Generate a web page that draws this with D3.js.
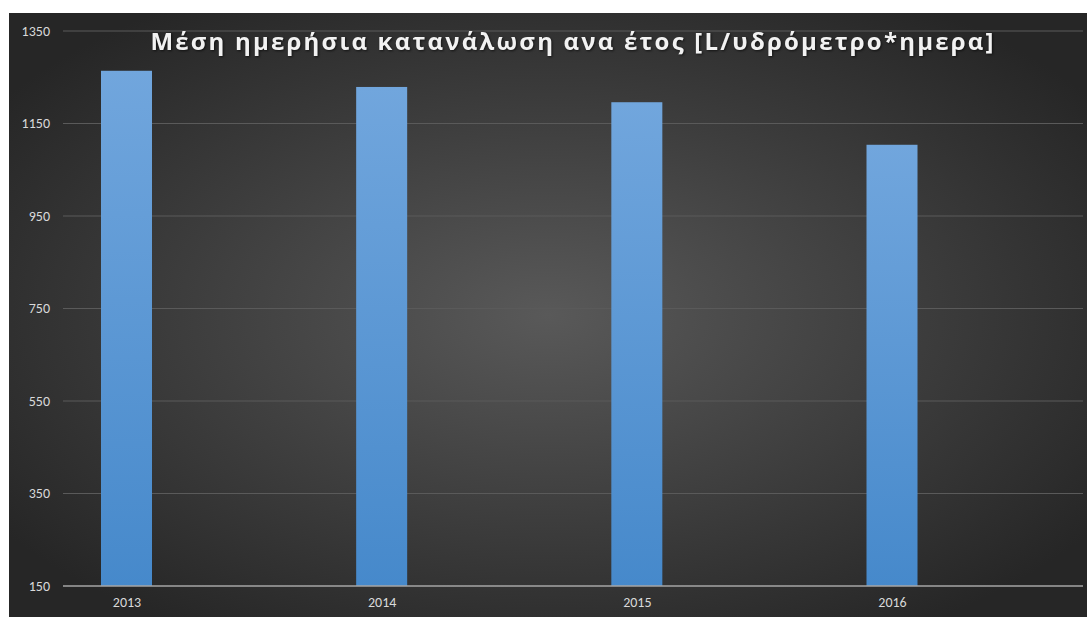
<!DOCTYPE html>
<html>
<head>
<meta charset="utf-8">
<script src="https://cdn.jsdelivr.net/npm/d3@7"></script>
<style>
html,body{margin:0;padding:0;background:#fff;}
svg{display:block;}
</style>
</head>
<body>
<svg id="chart" width="1087" height="617"></svg>
<script>
const categories = ["2013", "2014", "2015", "2016"];
const values = [1264, 1229, 1196, 1104];
const yTicks = [150, 350, 550, 750, 950, 1150, 1350];
const title = "Μέση ημερήσια κατανάλωση ανα έτος [L/υδρόμετρο*ημερα]";

const svg = d3.select("#chart");
const defs = svg.append("defs");
const bg = defs.append("radialGradient").attr("id", "bg")
  .attr("cx", "50%").attr("cy", "50%").attr("r", "62%");
bg.append("stop").attr("offset", "0%").attr("stop-color", "#595959");
bg.append("stop").attr("offset", "100%").attr("stop-color", "#262626");
const bar = defs.append("linearGradient").attr("id", "bar")
  .attr("x1", 0).attr("y1", 0).attr("x2", 0).attr("y2", 1);
bar.append("stop").attr("offset", "0%").attr("stop-color", "#71a6dd");
bar.append("stop").attr("offset", "100%").attr("stop-color", "#4689cb");

svg.append("rect").attr("x", 9).attr("y", 13).attr("width", 1078).attr("height", 604)
  .attr("fill", "url(#bg)");

const plotL = 63, plotR = 1083;
const y = d3.scaleLinear().domain([150, 1350]).range([586, 31]);
const x = d3.scalePoint().domain(categories).range([126.5, 892]);
const bw = 51;
const labelFont = "Carlito, Lato, 'Liberation Sans', sans-serif";

// gridlines
svg.append("g").selectAll("line").data(yTicks.slice(1)).join("line")
  .attr("x1", plotL).attr("x2", plotR)
  .attr("y1", d => y(d)).attr("y2", d => y(d))
  .attr("stroke", "#5a5a5a").attr("stroke-width", 1);

// y axis labels
const yAxis = d3.axisLeft(y).tickValues(yTicks).tickFormat(d3.format("d")).tickSize(0).tickPadding(0);
const ga = svg.append("g").attr("transform", "translate(50,0)").call(yAxis);
ga.select(".domain").remove();
ga.selectAll("text").attr("fill", "#d9d9d9").attr("font-family", labelFont)
  .attr("font-size", 14);

// bars
svg.append("g").selectAll("rect").data(values).join("rect")
  .attr("x", (d, i) => x(categories[i]) - bw / 2)
  .attr("width", bw)
  .attr("y", d => y(d))
  .attr("height", d => y(150) - y(d))
  .attr("fill", "url(#bar)");

// x axis
svg.append("line").attr("x1", plotL).attr("x2", plotR)
  .attr("y1", y(150)).attr("y2", y(150))
  .attr("stroke", "#a6a6a6").attr("stroke-width", 1.5);
const xAxis = d3.axisBottom(x).tickSize(0).tickPadding(0);
const gx = svg.append("g").attr("transform", `translate(0,${y(150) + 11})`).call(xAxis);
gx.select(".domain").remove();
gx.selectAll("text").attr("fill", "#d9d9d9").attr("font-family", labelFont)
  .attr("font-size", 14);

// title
svg.append("text").attr("x", 573).attr("y", 50)
  .attr("text-anchor", "middle")
  .attr("fill", "#f2f2f2")
  .attr("font-family", "'Open Sans', sans-serif")
  .attr("font-weight", "bold")
  .attr("font-size", 24)
  .attr("letter-spacing", "2.2px")
  .style("filter", "drop-shadow(1px 1px 1px rgba(0,0,0,0.6))")
  .text(title);
</script>
</body>
</html>
